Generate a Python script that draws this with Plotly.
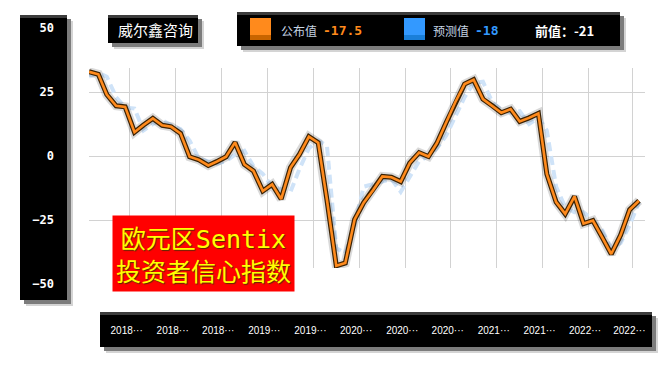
import plotly.graph_objects as go

# ---------------- data ----------------
months = [
    "2018-01", "2018-02", "2018-03", "2018-04", "2018-05", "2018-06", "2018-07", "2018-08", "2018-09", "2018-10", "2018-11", "2018-12",
    "2019-01", "2019-02", "2019-03", "2019-04", "2019-05", "2019-06", "2019-07", "2019-08", "2019-09", "2019-10", "2019-11", "2019-12",
    "2020-01", "2020-02", "2020-03", "2020-04", "2020-05", "2020-06", "2020-07", "2020-08", "2020-09", "2020-10", "2020-11", "2020-12",
    "2021-01", "2021-02", "2021-03", "2021-04", "2021-05", "2021-06", "2021-07", "2021-08", "2021-09", "2021-10", "2021-11", "2021-12",
    "2022-01", "2022-02", "2022-03", "2022-04", "2022-05", "2022-06", "2022-07", "2022-08", "2022-09", "2022-10", "2022-11", "2022-12",
    "2023-01",
]
actual = [
    32.9, 31.9, 24.0, 19.6, 19.2, 9.3, 12.1, 14.7, 12.0, 11.4, 8.8, -0.3,
    -1.5, -3.7, -2.2, -0.3, 5.3, -3.3, -5.8, -13.7, -11.1, -16.8, -4.5, 0.7,
    7.6, 5.2, -17.1, -42.9, -41.8, -24.8, -18.2, -13.4, -8.0, -8.3, -10.0, -2.7,
    1.3, -0.2, 5.0, 13.1, 21.0, 28.1, 29.8, 22.2, 19.6, 16.9, 18.3, 13.5,
    14.9, 16.6, -7.0, -18.0, -22.6, -15.8, -26.4, -25.2, -31.8, -38.3, -30.9, -21.0,
    -17.5,
]
forecast = [
    31.0, 32.5, 31.0, 23.0, 19.0, 18.5, 10.0, 12.5, 14.0, 12.0, 10.5, 6.0,
    -1.0, -2.0, -3.0, -2.0, 0.5, 2.0, -4.0, -7.0, -12.0, -13.0, -14.0, -5.0,
    3.0, 6.0, 4.0, -36.0, -38.0, -27.0, -12.0, -11.0, -10.0, -9.0, -14.0, -8.0,
    -2.0, 0.0, 3.0, 8.0, 15.0, 23.0, 28.5, 29.0, 21.0, 18.0, 17.0, 17.5,
    12.5, 15.0, 10.0, -12.0, -20.0, -22.0, -22.0, -25.0, -29.0, -36.0, -34.0, -27.0,
    -18.0,
]
y_tick_labels = [50, 25, 0, -25, -50]
y_grid = [-25, 0, 25]
x_tick_positions = ["2018-05-16", "2018-10-16", "2019-03-16", "2019-08-16", "2020-01-16", "2020-06-16",
                    "2020-11-16", "2021-04-16", "2021-09-16", "2022-02-15", "2022-07-16", "2022-12-10"]
x_tick_labels = ["2018···", "2018···", "2018···", "2019···", "2019···", "2020···",
                 "2020···", "2020···", "2021···", "2021···", "2022···", "2022···"]

title_text = '欧元区<span style="font-family:DejaVu Sans Mono">Sentix</span><br>投资者信心指数'
brand = "威尔鑫咨询"
name_actual, name_forecast, name_prev = "公布值", "预测值", "前值："

ORANGE = "#ff8a1c"
BLUE = "#3399ff"
DASH_BLUE = "#cfe3f8"

# ---------------- layout geometry (screen pixels) ----------------
W, H = 670, 365
OFF = 8   # the page places the figure 8px from the top-left corner


def fx(x):
    return (x - OFF) / W


def fy(y):
    return 1 - (y - OFF) / H


PX0, PX1, PY0, PY1 = 89, 645, 68, 268      # plot area on screen
Y_ZERO_PX, PX_PER_UNIT = 156, 2.56
y_range = [(Y_ZERO_PX - PY1) / PX_PER_UNIT, (Y_ZERO_PX - PY0) / PX_PER_UNIT]
y2_range = [(Y_ZERO_PX - (H + OFF)) / PX_PER_UNIT, (Y_ZERO_PX - OFF) / PX_PER_UNIT]

fig = go.Figure()

# forecast dashed line
fig.add_trace(go.Scatter(x=months, y=forecast, mode="lines", name=name_forecast,
                         line=dict(color=DASH_BLUE, width=4, dash="9px,5px"), hoverinfo="skip"))
# soft shadow + dark outline + orange line
fig.add_trace(go.Scatter(x=months, y=actual, mode="lines", line=dict(color="rgba(0,0,0,0.15)", width=9),
                         hoverinfo="skip", showlegend=False))
fig.add_trace(go.Scatter(x=months, y=actual, mode="lines", line=dict(color="#3b2204", width=5),
                         hoverinfo="skip", showlegend=False))
fig.add_trace(go.Scatter(x=months, y=actual, mode="lines", name=name_actual,
                         line=dict(color=ORANGE, width=2.6)))
# dummy trace for the y-label axis
fig.add_trace(go.Scatter(x=[0], y=[0], xaxis="x2", yaxis="y2", mode="markers",
                         marker=dict(opacity=0), hoverinfo="skip", showlegend=False))

shapes = []


def box(x0, y0, x1, y1):
    shapes.append(dict(type="rect", xref="paper", yref="paper", layer="below",
                       x0=fx(x0 + 6), x1=fx(x1 + 6), y0=fy(y1 + 6), y1=fy(y0 + 6),
                       line=dict(width=0), fillcolor="#d4d4d4"))
    shapes.append(dict(type="rect", xref="paper", yref="paper", layer="below",
                       x0=fx(x0 + 4), x1=fx(x1 + 4), y0=fy(y1 + 4), y1=fy(y0 + 4),
                       line=dict(width=0), fillcolor="#7c7c7c"))
    shapes.append(dict(type="rect", xref="paper", yref="paper", layer="below",
                       x0=fx(x0), x1=fx(x1), y0=fy(y1), y1=fy(y0),
                       line=dict(width=0), fillcolor="#000000"))
    shapes.append(dict(type="rect", xref="paper", yref="paper", layer="below",
                       x0=fx(x0), x1=fx(x1), y0=fy(y0 + 3), y1=fy(y0),
                       line=dict(width=0), fillcolor="#3c3c3c"))


box(20, 15, 67, 300)      # y label panel
box(108, 15, 198, 43)     # brand box
box(237, 12, 620, 46)     # legend panel
box(100, 312, 652, 347)   # x label bar


# legend swatches
def swatch(x0, color, dark):
    shapes.append(dict(type="rect", xref="paper", yref="paper", x0=fx(x0), x1=fx(x0 + 21),
                       y0=fy(40), y1=fy(18), line=dict(width=0), fillcolor=color, layer="above"))
    shapes.append(dict(type="rect", xref="paper", yref="paper", x0=fx(x0), x1=fx(x0 + 21),
                       y0=fy(40), y1=fy(35), line=dict(width=0), fillcolor=dark, layer="above"))


swatch(250, ORANGE, "#c86400")
swatch(404, BLUE, "#1a7fd9")

annotations = []


def text(x, y, t, size, color, family, xanchor="left", bold=False):
    annotations.append(dict(xref="paper", yref="paper", x=fx(x), y=fy(y), text=t, showarrow=False,
                            xanchor=xanchor, yanchor="middle",
                            font=dict(size=size, color=color, family=family,
                                      weight="bold" if bold else "normal")))


text(155, 30, brand, 15, "white", "Noto Sans CJK SC", xanchor="center")
text(279, 31, name_actual, 12, "#c5d3e2", "Noto Sans CJK SC")
text(321, 31, f"{actual[-1]:g}", 13, ORANGE, "DejaVu Sans Mono", bold=True)
text(431, 31, name_forecast, 12, "#c5d3e2", "Noto Sans CJK SC")
text(473, 31, f"{forecast[-1]:g}", 13, BLUE, "DejaVu Sans Mono", bold=True)
text(533, 31, f"{name_prev}{actual[-2]:g}", 13, "white", "Noto Sans CJK SC", bold=True)

annotations.append(dict(xref="paper", yref="paper", x=fx(203), y=fy(253), text=title_text,
                        showarrow=False, xanchor="center", yanchor="middle", align="center",
                        bgcolor="#ff0000", borderpad=3,
                        font=dict(size=25, color="#ffff00", family="Noto Sans CJK SC",
                                  shadow="1px 1px 1px #5a2a00")))

fig.update_layout(
    width=W, height=H, margin=dict(l=0, r=0, t=0, b=0),
    paper_bgcolor="white", plot_bgcolor="rgba(0,0,0,0)",
    showlegend=False, shapes=shapes, annotations=annotations,
    xaxis=dict(domain=[fx(PX0), fx(PX1)], type="date",
               range=["2018-01-01", "2023-01-21"],
               tickmode="array", tickvals=x_tick_positions, ticktext=x_tick_labels,
               showgrid=True, gridcolor="#d2d2d2", gridwidth=1, zeroline=False, showline=False,
               ticks="", ticklabelstandoff=55, ticklabelshift=-3,
               tickfont=dict(color="white", size=10, family="Liberation Sans")),
    yaxis=dict(domain=[fy(PY1), fy(PY0)], range=y_range, tickmode="array", tickvals=y_grid,
               showticklabels=False, showgrid=True, gridcolor="#d2d2d2", gridwidth=1,
               zeroline=False, showline=False, ticks=""),
    xaxis2=dict(domain=[fx(55), fx(60)], anchor="y2", visible=False, showgrid=False, range=[-1, 1]),
    yaxis2=dict(domain=[0, 1], anchor="x2", range=y2_range, tickmode="array", tickvals=y_tick_labels,
                showgrid=False, zeroline=False, showline=False, ticks="",
                tickfont=dict(color="white", size=12, family="DejaVu Sans Mono", weight="bold")),
)

fig.write_html("out.html")
